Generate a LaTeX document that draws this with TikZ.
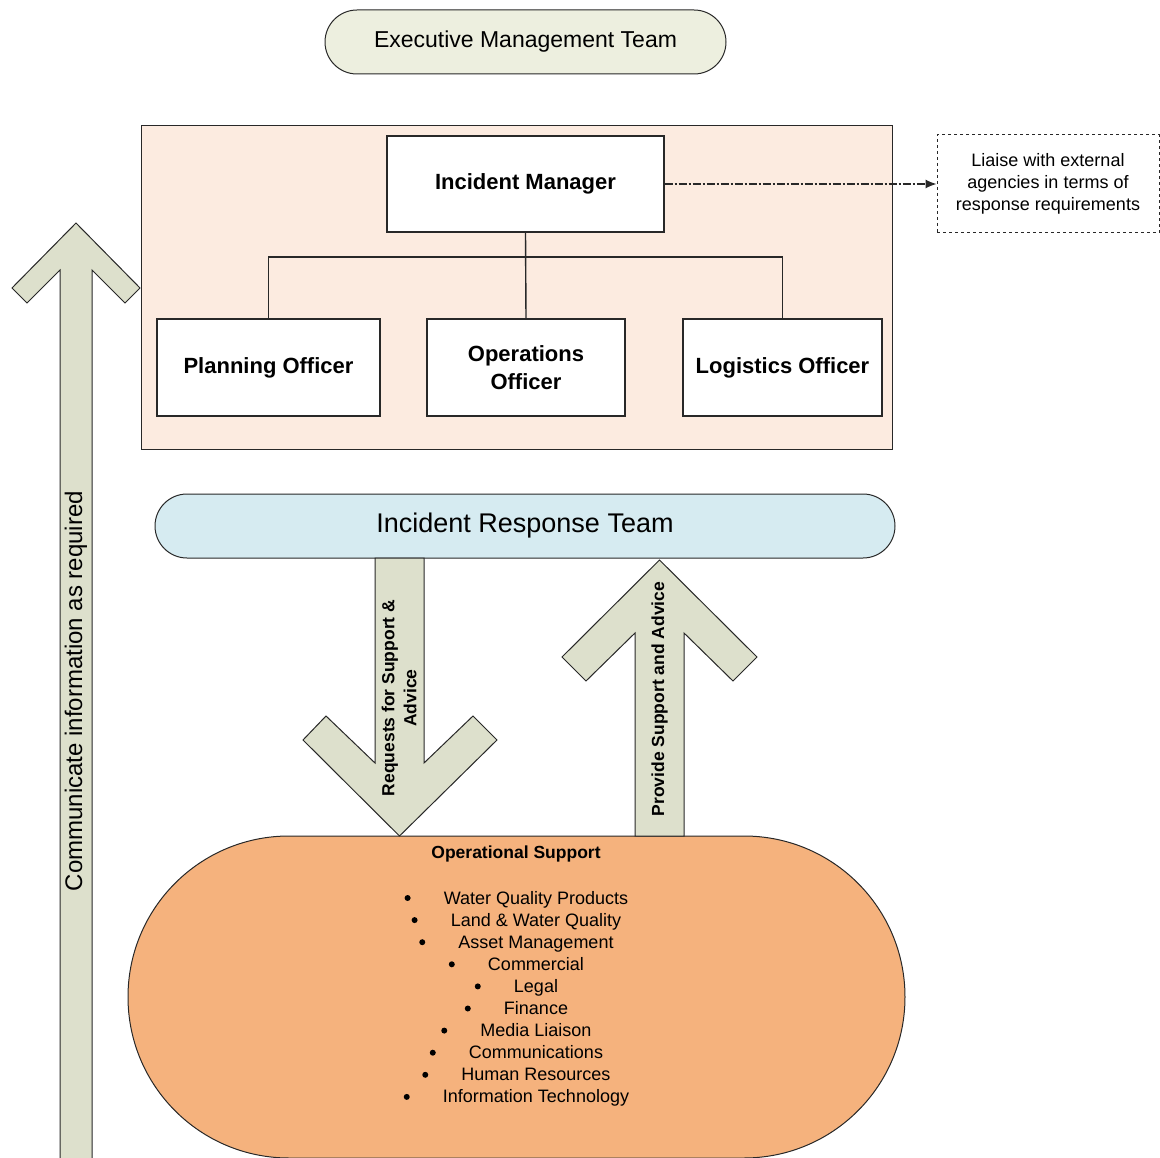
\documentclass[tikz,border=0pt]{standalone}
\usepackage{fontspec}
\setmainfont{Liberation Sans}
\usetikzlibrary{shapes.misc,arrows.meta}
\definecolor{execfill}{RGB}{237,239,223}
\definecolor{boxfill}{RGB}{252,235,224}
\definecolor{irtfill}{RGB}{214,235,241}
\definecolor{arrowfill}{RGB}{221,224,204}
\definecolor{opsfill}{RGB}{245,178,125}
\definecolor{edge}{RGB}{40,40,40}
\begin{document}
\begin{tikzpicture}[x=1pt,y=-1pt,
  stad/.style={rounded rectangle, draw=edge, line width=1pt, inner sep=0pt},
  rolebox/.style={rectangle, draw=edge, fill=white, line width=1.2pt, inner sep=0pt,
    font=\fontsize{22}{28}\selectfont\bfseries, align=center},
  blockarrow/.style={draw=edge, fill=arrowfill, line width=1pt, line join=miter},
  tree/.style={draw=edge, line width=1.4pt},
  item/.style={font=\fontsize{18}{20}\selectfont, inner sep=0pt, anchor=base},
  arrowlabel/.style={font=\fontsize{17.5}{22}\selectfont\bfseries, rotate=90, inner sep=0pt, align=center},
]
\useasboundingbox (0,0) rectangle (1160,1158);

% left communication arrow
\draw[blockarrow] (76,223) -- (140,288) -- (125,303) -- (92,270) -- (92,1170)
  -- (60,1170) -- (60,270) -- (27,303) -- (12,288) -- cycle;
\node[font=\fontsize{24}{28}\selectfont, rotate=90, inner sep=0pt] (comm) at (76,691)
  {Communicate information as required};

% executive management team
\node[stad, fill=execfill, minimum width=401pt, minimum height=64pt,
  font=\fontsize{23}{27}\selectfont] (exec) at (525.5,42) {Executive Management Team};

% incident management frame
\node[rectangle, draw=edge, fill=boxfill, line width=1pt, minimum width=751pt,
  minimum height=323pt, inner sep=0pt] (frame) at (516.5,287.5) {};

\node[rolebox, minimum width=277pt, minimum height=96pt] (im) at (525.5,184) {Incident Manager};
\node[rolebox, minimum width=223pt, minimum height=97pt] (po) at (268.5,367.5) {Planning Officer};
\node[rolebox, minimum width=198pt, minimum height=97pt] (oo) at (526,367.5) {Operations\\Officer};
\node[rolebox, minimum width=199pt, minimum height=97pt] (lo) at (782.5,367.5) {Logistics Officer};

\draw[tree] (im.south) -- (oo.north);
\draw[tree] (po.north) -- (po.north |- 0,257) -- (lo.north |- 0,257) -- (lo.north);

% liaise box
\node[rectangle, draw=edge, dashed, line width=1pt, minimum width=222pt, minimum height=98pt,
  inner sep=0pt, align=center, font=\fontsize{18}{22}\selectfont] (liaise) at (1048,184)
  {Liaise with external\\agencies in terms of\\response requirements};
\draw[draw=edge, line width=1.2pt, dash pattern=on 8pt off 2pt on 2pt off 2pt,
  -{Latex[length=11pt,width=9pt]}] (im.east) -- (liaise.west);

% incident response team
\node[stad, fill=irtfill, minimum width=740pt, minimum height=64pt,
  font=\fontsize{27}{31}\selectfont] (irt) at (525,526) {Incident Response Team};

% operational support
\node[stad, fill=opsfill, minimum width=777pt, minimum height=322pt] (ops) at (516.5,997) {};

% down arrow
\draw[blockarrow] (375,558) -- (375,763) -- (326,716) -- (303,740) -- (399.5,836)
  -- (497,740) -- (473,716) -- (424,763) -- (424,558) -- cycle;
\node[arrowlabel] (req) at (399,698) {Requests for Support \&\\Advice};

% up arrow
\draw[blockarrow] (635,836) -- (635,633) -- (586,681) -- (562,657) -- (659.5,560)
  -- (757,657) -- (733,681) -- (684,633) -- (684,836) -- cycle;
\node[arrowlabel] (prov) at (659.5,699) {Provide Support and Advice};

% operational support text
\node[font=\fontsize{17.5}{20}\selectfont\bfseries, inner sep=0pt] (opstitle) at (516,854)
  {Operational Support};
\foreach \t [count=\i] in {Water Quality Products, Land \& Water Quality, Asset Management,
  Commercial, Legal, Finance, Media Liaison, Communications, Human Resources,
  Information Technology} {
  \node[item] (li\i) at (536,{904+22.1*(\i-1)}) {\t};
  \fill ([xshift=-36pt,yshift=6pt]li\i.base west) circle (3pt);
}
\end{tikzpicture}
\end{document}
